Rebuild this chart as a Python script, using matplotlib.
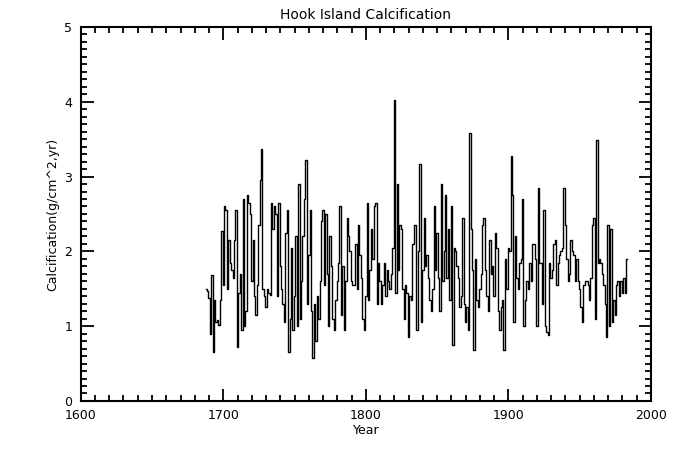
import numpy as np
import matplotlib
matplotlib.use('Agg')
import matplotlib.pyplot as plt
from matplotlib.ticker import MultipleLocator

# annual calcification values, 1688 onward
start_year = 1688
calc = [
    1.50, 1.47, 1.38, 0.90, 1.68, 0.65, 1.35, 1.05, 1.08, 1.02,   # 1688-1697
    1.35, 2.27, 1.55, 2.60, 2.55, 1.50, 2.15, 1.85, 1.75, 1.65,   # 1698-1707
    2.15, 2.55, 0.72, 1.45, 1.70, 0.95, 2.70, 1.00, 1.20, 2.75,   # 1708-1717
    2.65, 2.50, 1.60, 2.15, 1.40, 1.15, 1.55, 2.35, 2.95, 3.37,   # 1718-1727
    1.50, 1.40, 1.25, 1.50, 1.45, 1.42, 2.65, 2.30, 2.60, 2.50,   # 1728-1737
    1.40, 2.65, 1.80, 1.50, 1.30, 1.05, 2.25, 2.55, 0.65, 1.10,   # 1738-1747
    2.05, 0.95, 1.40, 2.20, 1.00, 2.90, 1.10, 1.60, 2.20, 2.70,   # 1748-1757
    3.22, 1.30, 1.95, 2.55, 1.20, 0.58, 1.30, 0.80, 1.40, 1.10,   # 1758-1767
    1.60, 2.40, 2.55, 1.55, 2.50, 1.70, 1.00, 2.20, 1.80, 1.10,   # 1768-1777
    0.95, 1.35, 1.60, 1.85, 2.60, 1.15, 1.80, 0.95, 1.60, 2.45,   # 1778-1787
    2.20, 2.00, 1.60, 1.55, 1.55, 2.10, 1.50, 2.35, 1.95, 1.65,   # 1788-1797
    1.10, 0.95, 1.40, 2.65, 1.35, 1.75, 2.30, 1.90, 2.60, 2.65,   # 1798-1807
    1.30, 1.85, 1.60, 1.30, 1.55, 1.85, 1.40, 1.75, 1.60, 1.50,   # 1808-1817
    1.70, 2.05, 4.03, 1.45, 2.90, 1.75, 2.35, 2.30, 1.50, 1.10,   # 1818-1827
    1.55, 1.45, 0.85, 1.40, 1.35, 2.10, 2.35, 2.35, 0.95, 2.00,   # 1828-1837
    3.17, 1.05, 1.75, 2.45, 1.80, 1.95, 1.65, 1.35, 1.20, 1.50,   # 1838-1847
    2.60, 1.75, 2.25, 1.65, 1.20, 2.90, 1.60, 2.00, 2.75, 1.65,   # 1848-1857
    2.30, 1.35, 2.60, 0.75, 2.05, 2.00, 1.80, 1.65, 1.25, 1.40,   # 1858-1867
    2.45, 1.30, 1.05, 1.25, 0.95, 3.58, 2.30, 1.75, 0.68, 1.90,   # 1868-1877
    1.35, 1.25, 1.50, 1.70, 2.35, 2.45, 1.75, 1.40, 1.20, 2.15,   # 1878-1887
    1.70, 1.80, 1.40, 2.25, 2.05, 1.20, 0.95, 1.25, 1.35, 0.68,   # 1888-1897
    1.90, 1.50, 2.05, 2.00, 3.27, 2.75, 1.05, 2.20, 1.65, 1.50,   # 1898-1907
    1.85, 1.90, 2.70, 1.00, 1.35, 1.60, 1.50, 1.85, 1.60, 2.10,   # 1908-1917
    2.10, 1.90, 1.00, 2.85, 1.85, 1.85, 1.30, 2.55, 1.00, 0.92,   # 1918-1927
    0.88, 1.85, 1.65, 1.75, 2.10, 2.15, 1.55, 1.85, 1.95, 2.00,   # 1928-1937
    2.05, 2.85, 2.35, 1.90, 1.60, 1.70, 2.15, 2.00, 1.95, 1.60,   # 1938-1947
    1.90, 1.60, 1.50, 1.25, 1.05, 1.55, 1.60, 1.60, 1.55, 1.35,   # 1948-1957
    1.65, 2.35, 2.45, 1.10, 3.49, 1.85, 1.90, 1.85, 1.70, 1.55,   # 1958-1967
    1.30, 0.85, 2.35, 1.00, 2.30, 1.05, 1.35, 1.15, 1.55, 1.60,   # 1968-1977
    1.40, 1.60, 1.45, 1.65, 1.45, 1.90,                           # 1978-1983
]
years = np.arange(start_year, start_year + len(calc))

fig = plt.figure(figsize=(6.75, 4.5), dpi=100)
ax = fig.add_axes([0.1196, 0.109, 0.8448, 0.831])

ax.plot(years, calc, drawstyle='steps-mid', color='black', lw=1.0)

ax.set_xlim(1600, 2000)
ax.set_ylim(0, 5)
ax.xaxis.set_major_locator(MultipleLocator(100))
ax.xaxis.set_minor_locator(MultipleLocator(10))
ax.yaxis.set_major_locator(MultipleLocator(1))
ax.yaxis.set_minor_locator(MultipleLocator(0.1))
ax.tick_params(which='both', direction='in', top=True, right=True,
               width=1.3, labelsize=9, pad=6)
ax.tick_params(which='major', length=9)
ax.tick_params(which='minor', length=4)
for s in ax.spines.values():
    s.set_linewidth(1.5)

ax.set_title('Hook Island Calcification', fontsize=10, pad=6)
ax.set_xlabel('Year', fontsize=9, labelpad=1)
ax.set_ylabel('Calcification(g/cm^2,yr)', fontsize=9, labelpad=4)

fig.savefig('out.png', dpi=100)
